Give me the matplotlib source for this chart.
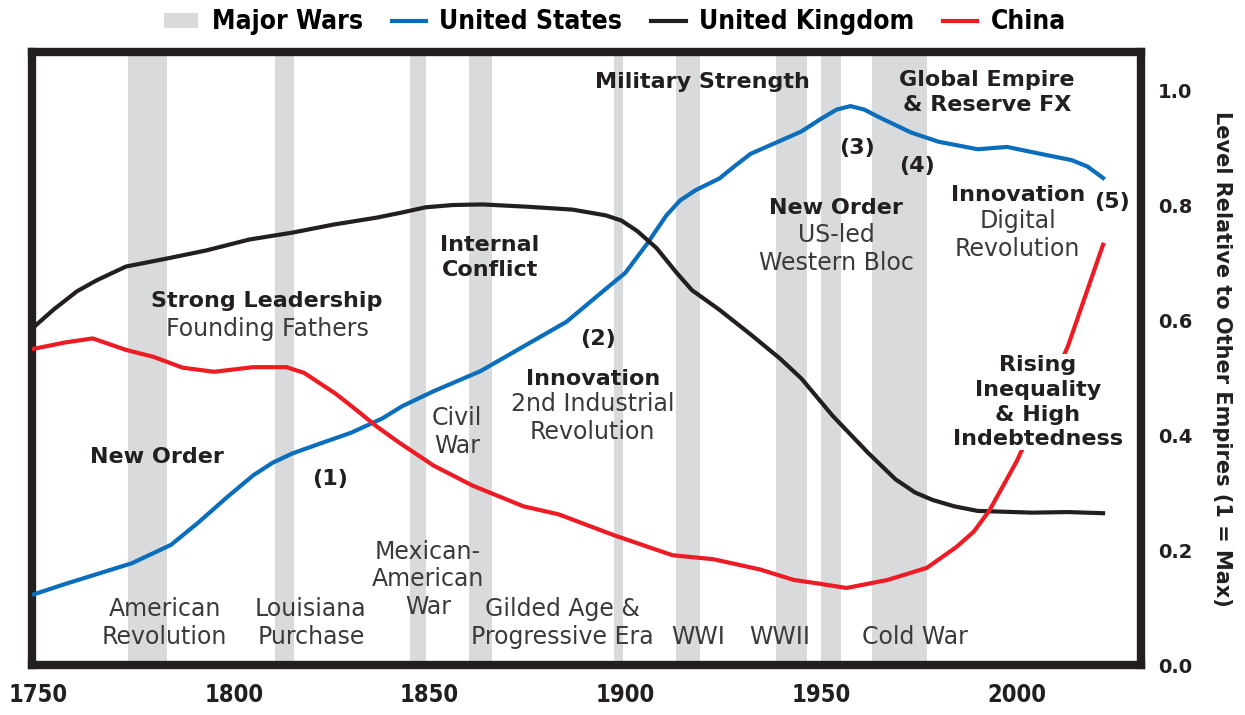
import numpy as np
import matplotlib.pyplot as plt
from matplotlib.patches import Patch
from matplotlib.lines import Line2D

plt.rcParams['font.family'] = ['DejaVu Sans']

# major war periods (start, end)
wars = [(1773, 1783), (1810.5, 1815.5), (1845, 1849), (1860, 1866), (1897, 1899.5),
        (1913, 1919), (1938.5, 1946.5), (1950, 1955), (1963, 1977)]

us_years = [1749, 1757, 1774, 1784, 1791, 1798, 1805, 1810, 1815, 1822, 1830, 1838, 1843, 1851,
            1863, 1874, 1885, 1895, 1900, 1905.5, 1910.5, 1914, 1918, 1924, 1928, 1932, 1939,
            1945, 1950, 1954, 1957.5, 1961, 1965, 1973, 1980, 1990, 1997.5, 2006, 2014, 2018, 2022]
us_vals = [0.123, 0.141, 0.177, 0.209, 0.248, 0.290, 0.330, 0.352, 0.368, 0.385, 0.404, 0.429,
           0.450, 0.476, 0.511, 0.554, 0.597, 0.654, 0.682, 0.732, 0.782, 0.808, 0.826, 0.846,
           0.868, 0.889, 0.910, 0.928, 0.950, 0.966, 0.972, 0.966, 0.952, 0.926, 0.910, 0.897,
           0.901, 0.889, 0.878, 0.867, 0.847]

uk_years = [1749, 1754, 1760, 1765, 1772.5, 1783, 1793, 1804, 1815, 1825.5, 1836.5, 1843,
            1849, 1856, 1863.5, 1875, 1886.5, 1895, 1899, 1903, 1908, 1913, 1917, 1924, 1932,
            1939.5, 1945, 1953, 1962, 1969, 1974, 1978.5, 1984, 1990, 2004, 2013, 2022]
uk_vals = [0.588, 0.618, 0.650, 0.669, 0.693, 0.707, 0.721, 0.740, 0.752, 0.766, 0.778, 0.787,
           0.796, 0.800, 0.801, 0.797, 0.792, 0.782, 0.773, 0.755, 0.725, 0.683, 0.652, 0.618,
           0.575, 0.533, 0.498, 0.433, 0.369, 0.323, 0.300, 0.287, 0.276, 0.268, 0.265, 0.266,
           0.264]

cn_years = [1749, 1757, 1764, 1772.5, 1779.5, 1787, 1795, 1805, 1813.5, 1818, 1822, 1826,
            1830.5, 1836.5, 1842, 1851, 1861, 1874, 1883, 1897, 1912, 1922.5, 1934.5, 1943,
            1950, 1956.5, 1967, 1977, 1984.5, 1989, 1993, 1997, 2000, 2005, 2013, 2022]
cn_vals = [0.550, 0.561, 0.568, 0.548, 0.536, 0.517, 0.510, 0.518, 0.518, 0.508, 0.490, 0.472,
           0.448, 0.415, 0.388, 0.347, 0.312, 0.276, 0.262, 0.226, 0.191, 0.184, 0.166, 0.148,
           0.141, 0.134, 0.148, 0.169, 0.205, 0.232, 0.269, 0.318, 0.355, 0.430, 0.554, 0.731]

x_ticks = [1750, 1800, 1850, 1900, 1950, 2000]
y_ticks = [0.0, 0.2, 0.4, 0.6, 0.8, 1.0]

BLUE = '#0a6ebd'
BLACK = '#231f20'
RED = '#ed1c24'
GREY = '#d9dadc'
TXT = '#3a3a3a'

fig = plt.figure(figsize=(12.45, 7.15), dpi=100)
ax = fig.add_axes([0.0257, 0.0699, 0.8908, 0.8573])

for a, b in wars:
    ax.axvspan(a, b, color=GREY, lw=0, zorder=0)

ax.plot(us_years, us_vals, color=BLUE, lw=3, zorder=3, solid_joinstyle='round')
ax.plot(uk_years, uk_vals, color=BLACK, lw=3, zorder=3, solid_joinstyle='round')
ax.plot(cn_years, cn_vals, color=RED, lw=3, zorder=3, solid_joinstyle='round')

ax.set_xlim(1748.5, 2031.7)
ax.set_ylim(0, 1.066)

for s in ax.spines.values():
    s.set_linewidth(6)
    s.set_color(BLACK)

ax.set_xticks(x_ticks)
ax.set_xticklabels([str(t) for t in x_ticks], fontsize=17, fontweight='bold',
                   fontstretch='condensed', color=BLACK)
ax.yaxis.tick_right()
ax.set_yticks(y_ticks)
ax.set_yticklabels([f'{t:.1f}' for t in y_ticks], fontsize=14, fontweight='bold', color=BLACK)
ax.tick_params(axis='both', length=0)
ax.tick_params(axis='x', pad=13)
ax.tick_params(axis='y', pad=12)
ax.yaxis.set_label_position('right')
ax.set_ylabel('Level Relative to Other Empires (1 = Max)', rotation=-90, fontsize=15,
              fontweight='bold', color=BLACK, labelpad=29)

def bold(x, y, s, **kw):
    ax.text(x, y, s, ha='center', va='center', fontsize=16, fontweight='bold',
            color=BLACK, linespacing=1.3, zorder=4, **kw)

def light(x, y, s, **kw):
    ax.text(x, y, s, ha='center', va='center', fontsize=17, color=TXT,
            linespacing=1.2, zorder=4, **kw)

# stage labels
bold(1919.8, 1.014, 'Military Strength')
bold(1992.3, 0.995, 'Global Empire\n& Reserve FX')
bold(1959.1, 0.900, '(3)')
bold(1974.5, 0.867, '(4)')
bold(2024.3, 0.806, '(5)')
bold(1953.8, 0.794, 'New Order')
light(1953.8, 0.723, 'US-led\nWestern Bloc')
bold(2000.2, 0.818, 'Innovation')
light(2000.2, 0.748, 'Digital\nRevolution')
bold(1865.4, 0.709, 'Internal\nConflict')
bold(1808.5, 0.633, 'Strong Leadership')
light(1808.5, 0.585, 'Founding Fathers')
bold(1893.0, 0.567, '(2)')
bold(1891.7, 0.498, 'Innovation')
light(1891.7, 0.429, '2nd Industrial\nRevolution')
light(1857.0, 0.405, 'Civil\nWar')
bold(1780.4, 0.362, 'New Order')
bold(1824.6, 0.324, '(1)')
bold(2005.4, 0.457, 'Rising\nInequality\n& High\nIndebtedness',
     bbox=dict(facecolor='white', edgecolor='none', pad=0.5))

# war names
light(1849.6, 0.149, 'Mexican-\nAmerican\nWar')
light(1782.4, 0.073, 'American\nRevolution')
light(1819.7, 0.073, 'Louisiana\nPurchase')
light(1884.0, 0.073, 'Gilded Age &\nProgressive Era')
light(1918.5, 0.048, 'WWI')
light(1939.5, 0.048, 'WWII')
light(1974.0, 0.048, 'Cold War')

handles = [Patch(facecolor=GREY, edgecolor='none'),
           Line2D([], [], color=BLUE, lw=3),
           Line2D([], [], color=BLACK, lw=3),
           Line2D([], [], color=RED, lw=3)]
labels = ['Major Wars', 'United States', 'United Kingdom', 'China']
fig.legend(handles, labels, loc='upper center', bbox_to_anchor=(0.494, 1.02), ncol=4,
           frameon=False, handlelength=1.3, handleheight=0.5, columnspacing=1.1,
           handletextpad=0.5,
           prop=dict(family='DejaVu Sans', stretch='condensed', weight='bold', size=19))

fig.savefig('out.png', dpi=100)
